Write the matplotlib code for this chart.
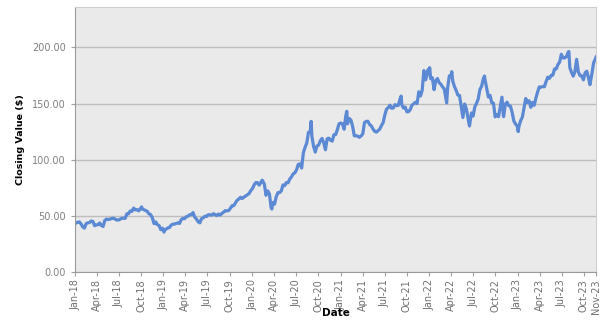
import matplotlib
matplotlib.use("Agg")
import matplotlib.pyplot as plt
import pandas as pd

# weekly closing values (Friday close), one list per year
close_2018 = [43.75, 44.27, 44.62, 42.88, 40.13, 39.10, 43.11, 43.86, 44.05, 45.43,
              44.99, 41.24, 41.95, 42.09, 43.68, 41.43, 40.58, 45.96, 47.15, 46.58,
              47.15, 47.56, 47.93, 47.21, 46.31, 46.28, 46.99, 47.84, 47.86, 47.74,
              51.85, 51.88, 54.40, 54.04, 56.91, 55.33, 55.53, 54.42, 56.44, 56.07,
              55.53, 54.83, 54.08, 51.87, 51.12, 48.38, 43.07, 44.65, 42.12, 41.37,
              37.68, 39.06]
close_2019 = [37.06, 38.07, 39.21, 39.44, 41.63, 42.60, 42.61, 43.24, 43.74, 43.23,
              46.53, 47.76, 47.49, 49.25, 49.72, 50.97, 51.08, 52.94, 48.84, 47.25,
              44.74, 43.77, 47.54, 48.19, 49.70, 49.48, 51.06, 50.83, 50.65, 51.94,
              51.01, 50.25, 51.63, 50.66, 52.19, 53.32, 54.69, 54.43, 54.71, 56.75,
              59.05, 59.10, 61.65, 63.96, 65.04, 66.57, 65.45, 66.81, 67.68, 68.79,
              69.86, 72.45]
close_2020 = [74.36, 77.58, 79.68, 79.58, 77.38, 80.01, 81.24, 78.26, 68.34, 72.26,
              69.49, 57.31, 61.94, 60.35, 67.00, 70.70, 70.74, 72.27, 77.53, 76.93,
              79.72, 79.49, 82.88, 84.70, 87.43, 88.41, 91.03, 95.92, 96.33, 92.62,
              106.26, 111.11, 114.91, 124.37, 124.81, 120.96, 112.00, 106.84, 112.28, 113.02,
              116.97, 119.02, 115.04, 108.86, 118.69, 119.26, 117.34, 116.59, 122.25, 122.41,
              126.66, 131.97, 132.69]
close_2021 = [132.05, 127.14, 139.07, 131.96, 136.76, 135.37, 129.87, 121.26, 121.42, 121.03,
              119.99, 121.21, 123.00, 133.00, 134.16, 134.32, 131.46, 130.21, 127.45, 125.43,
              124.61, 125.89, 127.35, 130.46, 133.11, 139.96, 145.11, 146.39, 148.56, 145.86,
              146.14, 149.10, 148.19, 148.60, 154.30, 148.97, 146.06, 146.92, 142.65, 142.90,
              144.84, 148.69, 149.80, 151.28, 149.99, 160.55, 156.81, 161.84, 179.45, 171.14,
              176.28, 177.57]
close_2022 = [172.17, 173.07, 162.41, 170.33, 172.39, 168.64, 167.30, 164.85, 163.17, 154.73,
              163.98, 174.72, 174.31, 170.09, 165.29, 161.79, 157.65, 157.28, 147.11, 137.59,
              149.64, 145.38, 137.13, 131.56, 141.66, 138.93, 147.04, 150.17, 154.09, 162.51,
              165.35, 172.10, 171.52, 163.62, 155.81, 157.37, 150.70, 150.43, 138.20, 140.09,
              138.38, 147.27, 155.74, 138.38, 149.70, 151.29, 148.11, 147.81, 142.16, 134.51,
              131.86, 129.93]
close_2023 = [129.62, 134.76, 137.87, 145.93, 154.50, 151.01, 152.55, 146.71, 151.03, 148.50,
              155.00, 160.25, 164.90, 164.66, 165.21, 165.02, 169.68, 173.57, 172.57, 175.16,
              175.43, 180.95, 180.96, 184.92, 187.00, 193.97, 190.68, 190.69, 191.94, 195.83,
              181.99, 177.79, 174.49, 178.61, 189.46, 178.18, 175.01, 174.79, 171.21, 177.49,
              178.85, 172.88, 168.22, 176.65, 186.40, 189.69]
first_friday = ["2018-01-05", "2019-01-04", "2020-01-03", "2021-01-08", "2022-01-07", "2023-01-06"]

# single days with highs / lows between the weekly closes
extra_dates = ["2018-01-02", "2018-10-03", "2019-01-03", "2020-02-12", "2020-03-23",
               "2020-09-01", "2021-01-26", "2021-09-07", "2021-12-27", "2022-01-03",
               "2022-03-14", "2022-04-04", "2022-06-16", "2022-08-17", "2022-11-03",
               "2023-01-03", "2023-07-31", "2023-10-26", "2023-11-20"]
extra_close = [43.06, 58.02, 35.55, 81.80, 56.09,
               134.18, 143.16, 156.69, 180.33, 182.01,
               150.62, 178.44, 130.06, 174.55, 138.88,
               125.07, 196.45, 166.89, 191.45]

parts = []
for start, vals in zip(first_friday, [close_2018, close_2019, close_2020,
                                      close_2021, close_2022, close_2023]):
    parts.append(pd.Series(vals, index=pd.date_range(start, periods=len(vals), freq="W-FRI")))
parts.append(pd.Series(extra_close, index=pd.to_datetime(extra_dates)))
series = pd.concat(parts).sort_index()

fig = plt.figure(figsize=(6.11, 3.22), dpi=100)
ax = fig.add_axes([0.1227, 0.1553, 0.8528, 0.8227])
ax.set_facecolor("#EAEAEA")

ax.plot(series.index, series.values, color="#5B89D4", linewidth=2.3, solid_joinstyle="round")

ax.set_ylim(0, 236)
ax.set_yticks([0, 50, 100, 150, 200])
ax.yaxis.set_major_formatter(matplotlib.ticker.FormatStrFormatter("%.2f"))
ax.grid(axis="y", color="#BDBDBD", linewidth=1.0)
ax.set_axisbelow(True)

end = series.index[-1]
ax.set_xlim(pd.Timestamp("2018-01-01"), end)
ticks = list(pd.date_range("2018-01-01", "2023-10-01", freq="QS")) + [end]
ax.set_xticks(ticks)
ax.set_xticklabels([t.strftime("%b-%y") if t != end else "Nov-23" for t in ticks],
                   rotation=90, fontsize=7, color="#707070")
ax.tick_params(axis="y", labelsize=7, labelcolor="#808080", length=3, color="#A0A0A0")
ax.tick_params(axis="x", length=3, color="#A0A0A0", pad=2)

for side in ["left", "bottom"]:
    ax.spines[side].set_color("#9A9A9A")
for side in ["top", "right"]:
    ax.spines[side].set_color("#CFCFCF")

ax.set_ylabel("Closing Value ($)", fontsize=6.8, fontweight="bold", va="center")
ax.yaxis.set_label_coords(-0.105, 0.5)
ax.set_xlabel("Date", fontsize=7.5, fontweight="bold", va="center")
ax.xaxis.set_label_coords(0.5, -0.155)

fig.savefig("out.png", dpi=100)
